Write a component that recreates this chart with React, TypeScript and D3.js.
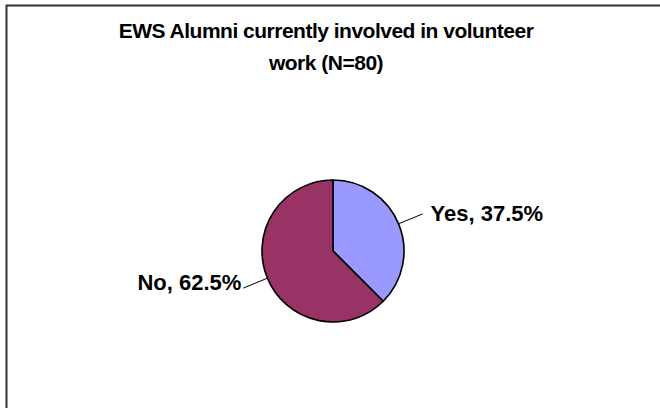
import React from 'react';
import * as d3 from 'd3';

// survey answers, share of respondents (%)
const answers = ['Yes', 'No'];
const shares = [37.5, 62.5];
const sliceColors = ['#9999FF', '#993366'];
const titleLines = ['EWS Alumni currently involved in volunteer', 'work (N=80)'];

const W = 660;
const H = 408;
const cx = 333;
const cy = 251;
const radius = 71;
const font = '"Liberation Sans", Arial, sans-serif';

const App: React.FC = () => {
  const data = answers.map((a, i) => ({ label: a, value: shares[i] }));
  const pie = d3.pie<{ label: string; value: number }>().sort(null).value(d => d.value);
  const arcs = pie(data);
  const arc = d3.arc<d3.PieArcDatum<{ label: string; value: number }>>().innerRadius(0).outerRadius(radius);
  const edgeArc = d3.arc<d3.PieArcDatum<{ label: string; value: number }>>().innerRadius(radius).outerRadius(radius);
  const outerArc = d3.arc<d3.PieArcDatum<{ label: string; value: number }>>().innerRadius(97).outerRadius(97);

  return (
    <svg width={W} height={H} style={{ position: 'fixed', left: 0, top: 0, display: 'block', background: '#fff' }}>
      <rect x={6.5} y={5.5} width={W + 20} height={H + 20} fill="#fff" stroke="#333" strokeWidth={2} />
      <g fontFamily={font} fontWeight="bold" fill="#000" textAnchor="middle">
        {titleLines.map((t, i) => (
          <text key={i} x={326} y={38 + i * 31.5} fontSize={21} letterSpacing={-0.5}>{t}</text>
        ))}
      </g>
      <g transform={`translate(${cx},${cy})`}>
        {arcs.map((a, i) => (
          <path key={i} d={arc(a) || ''} fill={sliceColors[i]} stroke="#000" strokeWidth={1.6} strokeLinejoin="round" />
        ))}
        {arcs.map((a, i) => {
          const [x0, y0] = edgeArc.centroid(a);
          const [x1, y1] = outerArc.centroid(a);
          const right = x1 > 0;
          return (
            <g key={'l' + i}>
              <line x1={x0} y1={y0} x2={x1} y2={y1} stroke="#000" strokeWidth={1} />
              <text
                x={right ? x1 + 8 : x1 - 2}
                y={y1 + (right ? 7 : 2)}
                textAnchor={right ? 'start' : 'end'}
                fontFamily={font}
                fontWeight="bold"
                fontSize={22}
              >
                {`${a.data.label}, ${a.data.value}%`}
              </text>
            </g>
          );
        })}
      </g>
    </svg>
  );
};

export default App;
